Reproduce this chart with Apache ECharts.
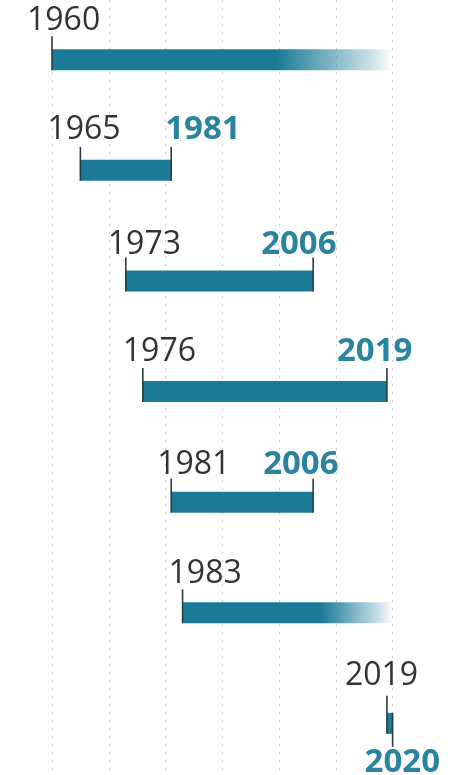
<!DOCTYPE html>
<html>
<head>
<meta charset="utf-8">
<script src="https://cdn.jsdelivr.net/npm/echarts@6/dist/echarts.min.js"></script>
<style>
  html, body { margin: 0; padding: 0; background: #ffffff; }
  #chart { width: 460px; height: 775px; }
</style>
</head>
<body>
<div id="chart"></div>
<script>
// Timeline spans: start year, end year (null = still running)
const startYears = [1960, 1965, 1973, 1976, 1981, 1983, 2019];
const endYears   = [null, 1981, 2006, 2019, 2006, null, 2020];
const yearTicks  = [1960, 1970, 1980, 1990, 2000, 2010, 2020];

// Label placement (pixels, relative to the tick line / bar)
const startLabelDx = [-25, -33, -18, -20, -14, -14, -42];
const endLabelDx   = [null, -6, -52, -50, -50, null, -28];
const labelLift    = [28, 30, 26, 29, 27, 28, 37];
const endBelow     = [false, false, false, false, false, false, true];

const BAR = '#1b7b96';
const TICK = '#2a3c42';
const START_TXT = '#333333';
const END_TXT = '#2a84a0';

const spans = startYears.map((s, i) => [i, s, endYears[i] === null ? yearTicks[yearTicks.length - 1] : endYears[i], endYears[i] === null ? 1 : 0]);

const chart = echarts.init(document.getElementById('chart'), null, { renderer: 'canvas' });

function renderItem(params, api) {
  const i = api.value(0);
  const s = api.value(1);
  const e = api.value(2);
  const open = api.value(3) === 1;
  const p0 = api.coord([s, i]);
  const p1 = api.coord([e, i]);
  const h = 21;
  const top = p0[1] - h / 2;
  const bottom = p0[1] + h / 2;
  const children = [];

  const fill = open
    ? new echarts.graphic.LinearGradient(0, 0, 1, 0, [
        { offset: 0, color: BAR },
        { offset: 0.66, color: BAR },
        { offset: 0.93, color: 'rgba(27,123,150,0.25)' },
        { offset: 1, color: 'rgba(27,123,150,0)' }
      ])
    : BAR;

  children.push({
    type: 'rect',
    shape: { x: p0[0], y: top, width: p1[0] - p0[0], height: h },
    style: { fill: fill }
  });

  // start marker and label
  const startTop = top - (i === 6 ? 17 : 13);
  children.push({
    type: 'line',
    shape: { x1: p0[0], y1: startTop, x2: p0[0], y2: bottom },
    style: { stroke: TICK, lineWidth: 1.6 }
  });
  children.push({
    type: 'text',
    style: {
      text: String(startYears[i]),
      x: p0[0] + startLabelDx[i],
      y: top - labelLift[i],
      align: 'left',
      verticalAlign: 'middle',
      fill: START_TXT,
      font: '400 32px "Open Sans"'
    }
  });

  // end marker and label
  if (!open) {
    const below = endBelow[i];
    children.push({
      type: 'line',
      shape: below
        ? { x1: p1[0], y1: top, x2: p1[0], y2: bottom + 13 }
        : { x1: p1[0], y1: top - 13, x2: p1[0], y2: bottom },
      style: { stroke: TICK, lineWidth: 1.6 }
    });
    children.push({
      type: 'text',
      style: {
        text: String(endYears[i]),
        x: p1[0] + endLabelDx[i],
        y: below ? bottom + 29 : top - labelLift[i],
        align: 'left',
        verticalAlign: 'middle',
        fill: END_TXT,
        font: '700 33px "Open Sans"'
      }
    });
  }

  return { type: 'group', children: children };
}

chart.setOption({
  animation: false,
  backgroundColor: '#ffffff',
  grid: { left: 52, right: 67.4, top: 0, height: 775 },
  xAxis: {
    type: 'value',
    min: yearTicks[0],
    max: yearTicks[yearTicks.length - 1],
    interval: 10,
    axisLine: { show: false },
    axisTick: { show: false },
    axisLabel: { show: false },
    splitLine: {
      show: true,
      lineStyle: { color: '#cfcfcf', width: 1, type: [2, 6] }
    }
  },
  yAxis: {
    type: 'value',
    inverse: true,
    min: -0.54,
    max: 6.467,
    show: false,
    splitLine: { show: false }
  },
  series: [{
    type: 'custom',
    renderItem: renderItem,
    clip: false,
    encode: { x: [1, 2], y: 0 },
    data: spans
  }]
});
</script>
</body>
</html>
